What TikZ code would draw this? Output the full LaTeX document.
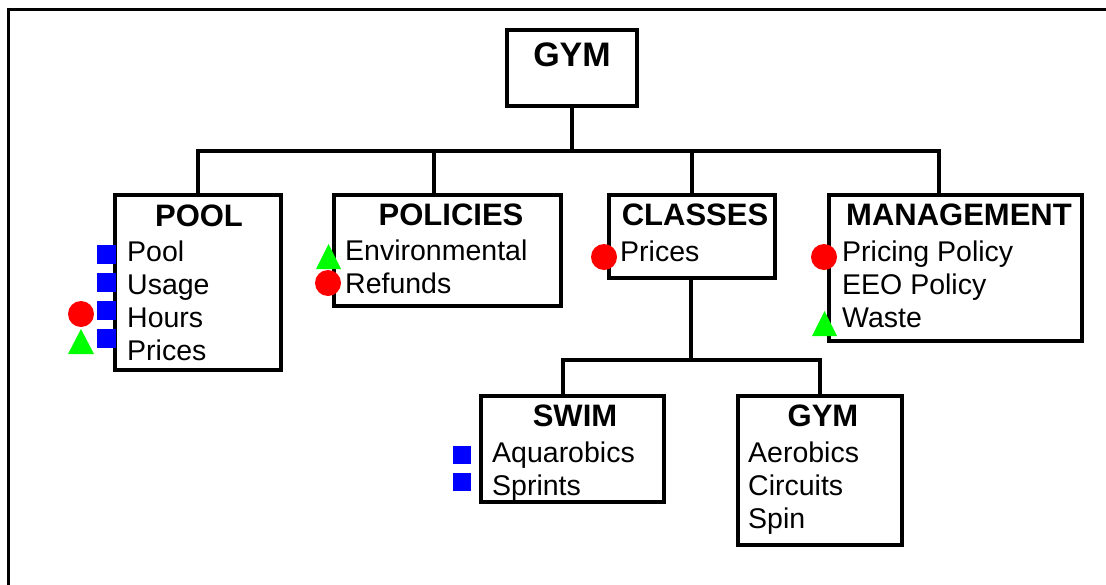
\documentclass[tikz,border=0pt]{standalone}
\usepackage{fontspec}
\setmainfont{Liberation Sans}
\definecolor{mkblue}{RGB}{0,0,255}
\definecolor{mkred}{RGB}{255,0,0}
\definecolor{mkgreen}{RGB}{0,255,0}
\begin{document}
\begin{tikzpicture}[x=1pt,y=-1pt,
  box/.style={draw, line width=4pt, inner sep=0pt, outer sep=0pt, fill=white},
  conn/.style={draw, line width=4pt, line join=miter},
  ttl/.style={anchor=base, inner sep=0pt, font=\fontsize{31}{33}\selectfont\bfseries},
  itm/.style={anchor=base west, inner sep=0pt, font=\fontsize{28.5}{33}\selectfont},
  sq/.style={fill=mkblue, draw=none, inner sep=0pt, minimum size=19pt},
  dot/.style={circle, fill=mkred, draw=none, inner sep=0pt, minimum size=26pt}]
\useasboundingbox (0,0) rectangle (1106,584);
\clip (0,0) rectangle (1106,584);
\fill[white] (0,0) rectangle (1106,584);
\draw[line width=3pt] (8.5,9.5) rectangle (1140,610);

% coordinates for connectors
\coordinate (bus) at (572,151);
\coordinate (dpol) at (434,195);
\coordinate (dmgt) at (939,195);
\coordinate (sbus) at (691,360);
\coordinate (dswim) at (563,396);

% boxes
\node[box, minimum width=130pt, minimum height=76pt] (gym) at (572,68) {};
\node[box, minimum width=166pt, minimum height=175pt] (pool) at (198,282.5) {};
\node[box, minimum width=227pt, minimum height=111pt] (pol) at (447.5,250.5) {};
\node[box, minimum width=166pt, minimum height=83pt] (cls) at (692,236.5) {};
\node[box, minimum width=253pt, minimum height=146pt] (mgt) at (955.5,268) {};
\node[box, minimum width=183pt, minimum height=106pt] (swim) at (572.5,449) {};
\node[box, minimum width=164pt, minimum height=149pt] (gym2) at (820,470.5) {};

% connectors
\draw[conn] (gym.south) -- (bus);
\draw[conn] (pool.north) -- (pool.north |- bus) -- (dmgt |- bus) -- (dmgt);
\draw[conn] (dpol |- bus) -- (dpol);
\draw[conn] (cls.north |- bus) -- (cls.north);
\draw[conn] (cls.south -| sbus) -- (sbus);
\draw[conn] (dswim) -- (dswim |- sbus) -- (gym2.north |- sbus) -- (gym2.north);

% titles
\node[ttl, font=\fontsize{34}{36}\selectfont\bfseries] (tgym) at (572,66) {GYM};
\node[ttl] (tpool) at (199,226) {POOL};
\node[ttl] (tpol) at (451,225) {POLICIES};
\node[ttl] (tcls) at (695,225) {CLASSES};
\node[ttl] (tmgt) at (959,225) {MANAGEMENT};
\node[ttl] (tswim) at (575,426) {SWIM};
\node[ttl] (tgym2) at (823,426) {GYM};

% items
\node[itm] (p1) at (127,261) {Pool};
\node[itm] (p2) at (127,294) {Usage};
\node[itm] (p3) at (127,327) {Hours};
\node[itm] (p4) at (127,360) {Prices};
\node[itm] (o1) at (345,260) {Environmental};
\node[itm] (o2) at (345,293) {Refunds};
\node[itm] (c1) at (620,261) {Prices};
\node[itm] (m1) at (842,261) {Pricing Policy};
\node[itm] (m2) at (842,294) {EEO Policy};
\node[itm] (m3) at (842,327) {Waste};
\node[itm] (s1) at (492,462) {Aquarobics};
\node[itm] (s2) at (492,495) {Sprints};
\node[itm] (g1) at (748,462) {Aerobics};
\node[itm] (g2) at (748,495) {Circuits};
\node[itm] (g3) at (748,528) {Spin};

% markers
\node[sq] (q1) at (106,254.5) {};
\node[sq] (q2) at (106,282) {};
\node[sq] (q3) at (106,310) {};
\node[sq] (q4) at (106,338) {};
\node[sq, minimum size=18pt] (q5) at (462,455) {};
\node[sq, minimum size=18pt] (q6) at (462,482) {};
\node[dot] (r1) at (81,314) {};
\node[dot] (r2) at (328,283) {};
\node[dot] (r3) at (604,257) {};
\node[dot] (r4) at (824,257) {};
\fill[mkgreen] (81,329) -- (94,354) -- (68,354) -- cycle;
\fill[mkgreen] (328.5,244) -- (341,269) -- (316,269) -- cycle;
\fill[mkgreen] (824.5,311) -- (837,336) -- (812,336) -- cycle;
\end{tikzpicture}
\end{document}
